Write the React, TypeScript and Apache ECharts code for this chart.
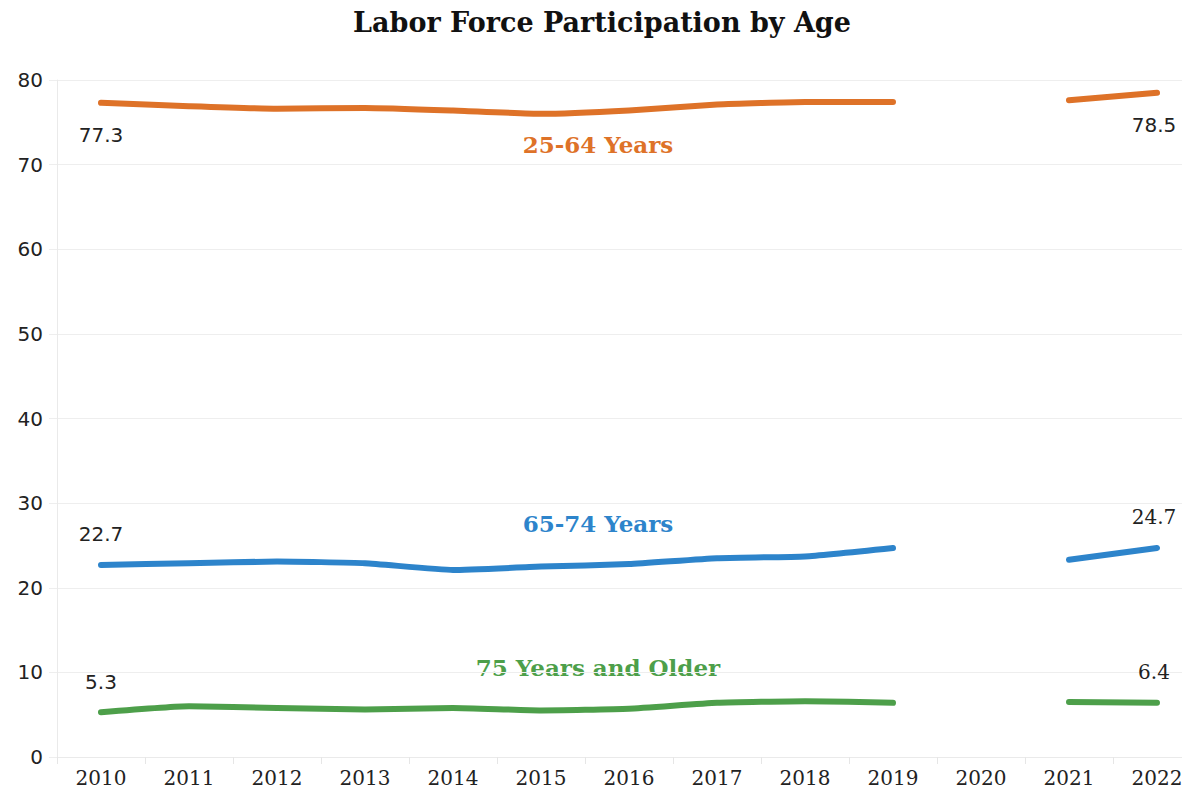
import React, { useEffect, useRef } from "react";
import * as echarts from "echarts";

const years = ["2010", "2011", "2012", "2013", "2014", "2015", "2016", "2017", "2018", "2019", "2020", "2021", "2022"];
const prime = [77.3, 76.9, 76.6, 76.7, 76.4, 76.0, 76.4, 77.1, 77.4, 77.4, null, 77.6, 78.5];
const older = [22.7, 22.9, 23.1, 22.9, 22.1, 22.5, 22.8, 23.5, 23.7, 24.7, null, 23.3, 24.7];
const oldest = [5.3, 6.0, 5.8, 5.6, 5.8, 5.5, 5.7, 6.4, 6.6, 6.4, null, 6.5, 6.4];
const seriesNames = ["25-64 Years", "65-74 Years", "75 Years and Older"];
const yTicks = [0, 10, 20, 30, 40, 50, 60, 70, 80];

const COLORS = ["#DE7228", "#2D84CB", "#4D9F4A"];
const SERIF = "'DejaVu Serif', serif";
const SANS = "'DejaVu Sans', sans-serif";

function buildData(vals: (number | null)[], pos: "top" | "bottom", fontFamily: string[]) {
  const last = vals.length - 1;
  return vals.map((v, i) => {
    if (i === 0 || i === last) {
      return {
        value: v,
        label: {
          show: true,
          position: pos,
          distance: pos === "bottom" ? 22 : 20,
          offset: i === last ? [-3, 0] : [0, 0],
          fontFamily: i === 0 ? fontFamily[0] : fontFamily[1],
          fontSize: 20,
          color: "#222",
          formatter: (p: any) => String(p.value),
        },
      };
    }
    return { value: v };
  });
}

export default function App() {
  const ref = useRef<HTMLDivElement>(null);
  useEffect(() => {
    document.body.style.margin = "0";
    document.body.style.overflow = "hidden";
    const chart = echarts.init(ref.current!, null, { renderer: "svg" });
    const mkSeries = (name: string, vals: (number | null)[], color: string, pos: "top" | "bottom", fonts: string[]) => ({
      name,
      type: "line",
      data: buildData(vals, pos, fonts),
      smooth: 0.15,
      showSymbol: true,
      symbol: "circle",
      symbolSize: 1,
      connectNulls: false,
      lineStyle: { color, width: 6, cap: "round", join: "round" },
      itemStyle: { color: "rgba(0,0,0,0)" },
      emphasis: { disabled: true },
    });
    chart.setOption({
      animation: false,
      backgroundColor: "#fff",
      title: {
        text: "Labor Force Participation by Age",
        left: 597,
        top: 4,
        textAlign: "center",
        textStyle: { fontFamily: SERIF, fontSize: 27, fontWeight: "bold", color: "#111" },
      },
      grid: { left: 57, right: 0, top: 80, bottom: 33 },
      xAxis: {
        type: "category",
        data: years,
        boundaryGap: true,
        axisLine: { show: true, lineStyle: { color: "#eaeaea", width: 1 } },
        axisTick: { show: true, length: 7, lineStyle: { color: "#e6e6e6" } },
        axisLabel: { margin: 11, fontFamily: SERIF, fontSize: 20, color: "#222" },
      },
      yAxis: {
        type: "value",
        min: yTicks[0],
        max: yTicks[yTicks.length - 1],
        interval: 10,
        axisLine: { show: true, lineStyle: { color: "#eaeaea" } },
        axisTick: { show: true, length: 8, lineStyle: { color: "#eeeeee" } },
        splitLine: { show: true, lineStyle: { color: "#eeeeee", width: 1 } },
        axisLabel: { margin: 14, fontFamily: SANS, fontSize: 20, color: "#222" },
      },
      series: [
        mkSeries(seriesNames[0], prime, COLORS[0], "bottom", [SANS, SANS]),
        mkSeries(seriesNames[1], older, COLORS[1], "top", [SANS, SERIF]),
        mkSeries(seriesNames[2], oldest, COLORS[2], "top", [SANS, SERIF]),
      ],
      graphic: [
        { type: "text", x: 598, y: 144, style: { text: seriesNames[0], fill: COLORS[0], font: `bold 23px ${SERIF}`, textAlign: "center", textVerticalAlign: "middle" } },
        { type: "text", x: 598, y: 523, style: { text: seriesNames[1], fill: COLORS[1], font: `bold 23px ${SERIF}`, textAlign: "center", textVerticalAlign: "middle" } },
        { type: "text", x: 598, y: 667, style: { text: seriesNames[2], fill: COLORS[2], font: `bold 23px ${SERIF}`, textAlign: "center", textVerticalAlign: "middle" } },
      ],
    });
    return () => chart.dispose();
  }, []);
  return (
    <div style={{ width: 1182, height: 790, overflow: "hidden" }}>
      <div ref={ref} style={{ width: 1201, height: 790 }} />
    </div>
  );
}
